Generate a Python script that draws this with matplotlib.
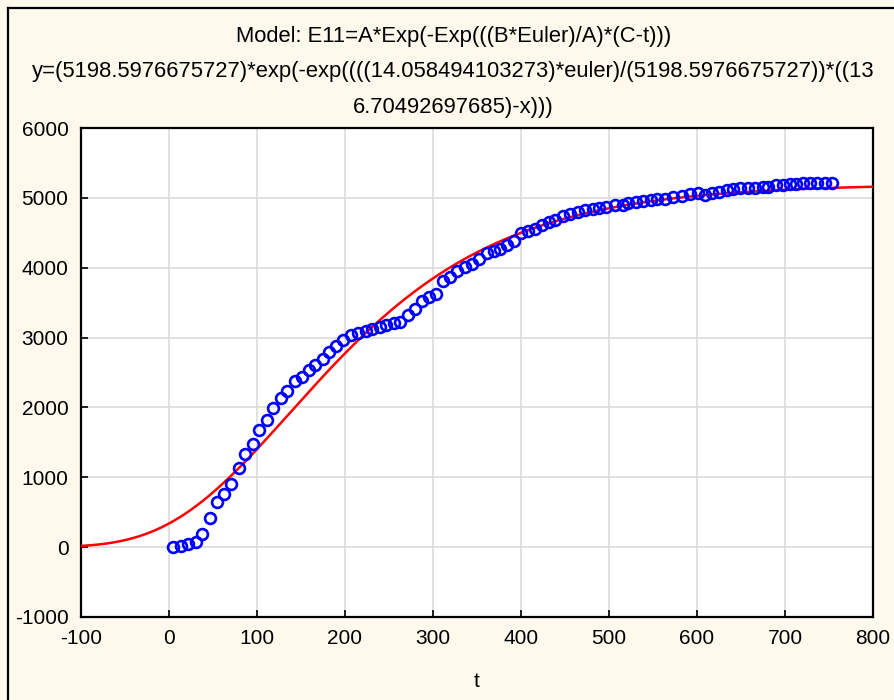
"""
Gompertz growth fit: observed E11 vs t with fitted model curve.
"""
import numpy as np
import matplotlib
matplotlib.use("Agg")
import matplotlib.pyplot as plt
from matplotlib.lines import Line2D

plt.rcParams["font.family"] = ["Liberation Sans", "DejaVu Sans"]
plt.rcParams["axes.unicode_minus"] = False

t_obs = [5, 14, 22, 31, 38, 47, 54, 63, 70, 79, 86, 95, 102, 111, 118, 127,
         134, 143, 151, 159, 166, 175, 182, 190, 198, 207, 215, 224, 231, 240,
         247, 256, 262, 272, 279, 288, 296, 303, 311, 319, 327, 336, 344, 352,
         361, 369, 376, 384, 392, 400, 408, 416, 424, 432, 439, 448, 456, 465,
         473, 482, 489, 497, 507, 516, 522, 531, 539, 548, 555, 564, 573, 583,
         592, 601, 609, 617, 625, 634, 641, 649, 658, 666, 675, 681, 690, 698,
         706, 713, 721, 728, 736, 745, 753]
y_obs = [0, 20, 45, 75, 190, 420, 640, 760, 900, 1130, 1330, 1480, 1670, 1820,
         1990, 2130, 2240, 2380, 2440, 2530, 2610, 2700, 2790, 2880, 2970, 3035,
         3070, 3095, 3120, 3150, 3180, 3205, 3225, 3320, 3410, 3525, 3575, 3630,
         3805, 3870, 3955, 4005, 4060, 4125, 4210, 4245, 4265, 4320, 4385, 4500,
         4520, 4550, 4610, 4650, 4690, 4740, 4775, 4795, 4825, 4845, 4850, 4870,
         4895, 4900, 4930, 4945, 4957, 4967, 4977, 4990, 5015, 5030, 5050, 5063,
         5040, 5072, 5090, 5110, 5125, 5135, 5135, 5140, 5150, 5150, 5180, 5185,
         5192, 5205, 5207, 5207, 5207, 5207, 5207]

# fitted parameters
A = 5198.5976675727
B = 14.058494103273
C = 136.70492697685
EULER = np.e

x_ticks = [-100, 0, 100, 200, 300, 400, 500, 600, 700, 800]
y_ticks = [-1000, 0, 1000, 2000, 3000, 4000, 5000, 6000]

t_fit = np.linspace(-100, 800, 600)
y_fit = A * np.exp(-np.exp((B * EULER / A) * (C - t_fit)))

BG = "#fef9ec"
fig = plt.figure(figsize=(8.94, 7.0), dpi=100, facecolor=BG)
ax = fig.add_axes([81 / 894, 1 - 617 / 700, (873 - 81) / 894, (617 - 128) / 700])
ax.set_facecolor("white")

ax.plot(t_fit, y_fit, color="#ff0000", lw=1.8, zorder=3)
ax.plot(t_obs, y_obs, "o", mfc="none", mec="#0000ff", ms=7.8, mew=1.9,
        zorder=4, clip_on=False)

ax.set_xlim(-100, 800); ax.set_ylim(-1000, 6000)
ax.set_xticks(x_ticks); ax.set_yticks(y_ticks)
ax.grid(True, color="#dcdcdc", lw=1.2)
ax.set_axisbelow(True)
for s in ax.spines.values():
    s.set_linewidth(1.6); s.set_color("black")
ax.tick_params(direction="in", length=5, width=1.2, labelsize=15,
               colors="black", pad=9)
ax.set_xlabel("t", fontsize=15, labelpad=17)

title = ("Model: E11=A*Exp(-Exp(((B*Euler)/A)*(C-t)))\n"
         "y=(5198.5976675727)*exp(-exp((((14.058494103273)*euler)/(5198.5976675727))*((13\n"
         "6.70492697685)-x)))")
fig.text(0.507, 1 - 72 / 700, title, ha="center", va="center", fontsize=15.8,
         linespacing=1.9)

# outer frame lines (left and top edges)
fig.add_artist(Line2D([8 / 894, 8 / 894], [0, 1 - 8 / 700], color="black",
                      lw=1.6, transform=fig.transFigure))
fig.add_artist(Line2D([8 / 894, 1], [1 - 8 / 700, 1 - 8 / 700], color="black",
                      lw=1.6, transform=fig.transFigure))

plt.savefig("out.png", dpi=100, facecolor=BG)
plt.close(fig)
